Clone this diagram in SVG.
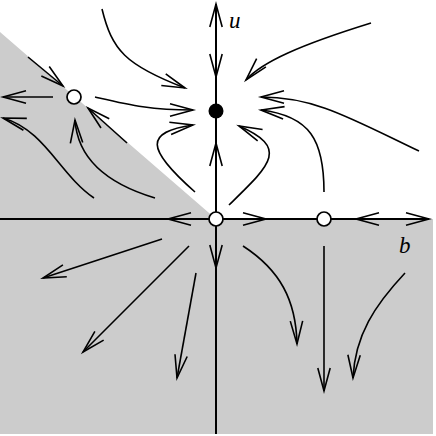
<svg xmlns="http://www.w3.org/2000/svg" width="436" height="436" viewBox="0 0 436 436">
<style>
.flow{fill:none;stroke:#000;stroke-width:1.6;marker-end:url(#ah)}
.axis{fill:none;stroke:#000;stroke-width:2}
.tick{fill:none;stroke:none;marker-end:url(#ah)}
.open{fill:#fff;stroke:#000;stroke-width:1.7}
.lbl{font-family:"Liberation Serif",serif;font-style:italic;font-size:23px;fill:#000}
</style>
<defs>
<marker id="ah" markerUnits="userSpaceOnUse" markerWidth="30" markerHeight="20" viewBox="-26 -10 30 20" refX="0" refY="0" orient="auto" overflow="visible">
<path d="M-23,-6.2 L0,0 L-23,6.2" fill="none" stroke="#000" stroke-width="1.6" stroke-linejoin="miter"/>
</marker>
</defs>
<rect width="436" height="436" fill="#fff"/>
<polygon id="region" points="0,32 216,219 433,219 433,434 0,434" fill="#cccccc"/>
<g id="axes">
<path class="axis" d="M0,219 L429,219"/>
<path class="axis" d="M216,434 L216,4"/>
</g>
<g id="connectors">
<path class="tick" d="M216,30 L216,4"/>
<path class="tick" d="M216,50 L216,77"/>
<path class="tick" d="M216,170 L216,143"/>
<path class="tick" d="M216,240 L216,268"/>
<path class="tick" d="M195,219 L168,219"/>
<path class="tick" d="M240,219 L266,219"/>
<path class="tick" d="M385,219 L356,219"/>
<path class="tick" d="M400,219 L429,219"/>
<path class="flow" d="M102,9 C112,50 125,65 185,88"/>
<path class="flow" d="M95,97 C130,105 150,110 193,110"/>
<path class="flow" d="M195,192 C145,148 145,132 193,125"/>
<path class="flow" d="M28,57 L63,86"/>
<path class="flow" d="M53,97 L3,97"/>
<path class="flow" d="M127,143 L88,108"/>
<path class="flow" d="M155,198 C95,180 77,150 75,120"/>
<path class="flow" d="M94,198 C60,175 45,130 3,118"/>
<path class="flow" d="M371,23 C300,45 262,62 246,80"/>
<path class="flow" d="M419,151 C350,118 315,97 261,97"/>
<path class="flow" d="M324,192 C324,140 310,116 261,110"/>
<path class="flow" d="M229,205 C270,165 290,148 239,126"/>
<path class="flow" d="M162,239 L43,278"/>
<path class="flow" d="M189,246 L83,352"/>
<path class="flow" d="M196,273 L177,378"/>
<path class="flow" d="M243,246 C280,270 296,300 297,344"/>
<path class="flow" d="M324,246 L324,391"/>
<path class="flow" d="M405,273 C375,305 355,335 353,378"/>
</g>
<g id="node-origin"><circle class="open" cx="216" cy="219" r="7"/></g>
<g id="node-left"><circle class="open" cx="74" cy="97" r="7"/></g>
<g id="node-right"><circle class="open" cx="324" cy="219" r="7"/></g>
<g id="node-stable"><circle cx="216" cy="111" r="7.5" fill="#000"/></g>
<g id="labels">
<text class="lbl" x="229" y="28">u</text>
<text class="lbl" x="399" y="253">b</text>
</g>
</svg>
